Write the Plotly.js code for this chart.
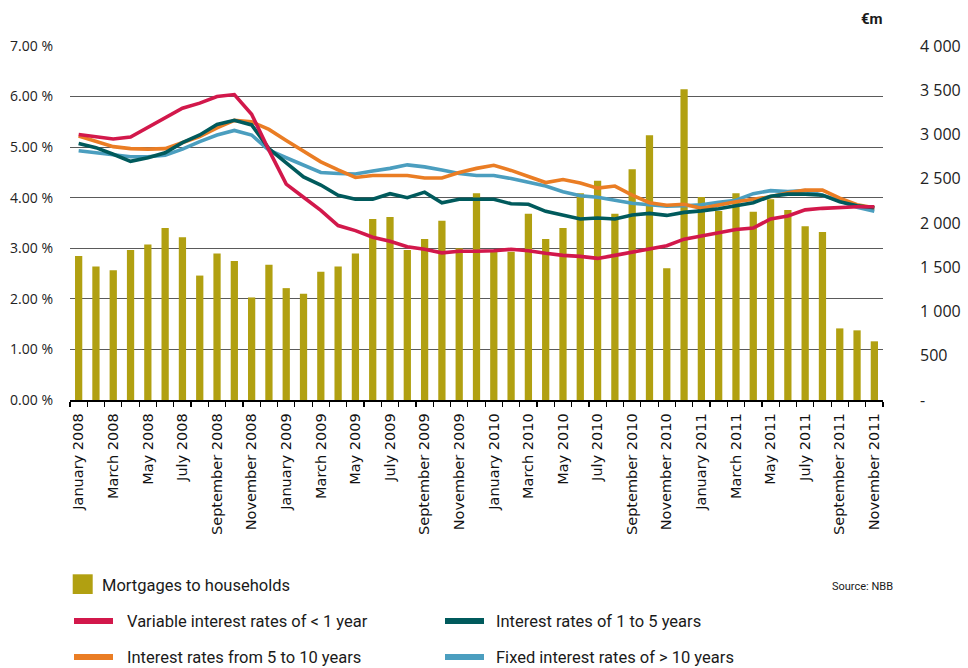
<!DOCTYPE html>
<html>
<head>
<meta charset="utf-8">
<script src="https://cdn.plot.ly/plotly-3.0.1.min.js"></script>
<style>
  html, body { margin: 0; padding: 0; background: #fff; }
  #chart { width: 968px; height: 668px; }
</style>
</head>
<body>
<div id="chart"></div>
<script>
// ---- Data ----
const months = [
  "January 2008","February 2008","March 2008","April 2008","May 2008","June 2008",
  "July 2008","August 2008","September 2008","October 2008","November 2008","December 2008",
  "January 2009","February 2009","March 2009","April 2009","May 2009","June 2009",
  "July 2009","August 2009","September 2009","October 2009","November 2009","December 2009",
  "January 2010","February 2010","March 2010","April 2010","May 2010","June 2010",
  "July 2010","August 2010","September 2010","October 2010","November 2010","December 2010",
  "January 2011","February 2011","March 2011","April 2011","May 2011","June 2011",
  "July 2011","August 2011","September 2011","October 2011","November 2011"
];

// Mortgages to households (€m, right axis)
const mortgages = [
  1628, 1508, 1467, 1696, 1756, 1944, 1839, 1406, 1654, 1572, 1159, 1527,
  1264, 1200, 1448, 1508, 1654, 2045, 2068, 1696, 1820, 2026, 1715, 2335,
  1696, 1674, 2105, 1820, 1944, 2335, 2477, 2105, 2606, 2992, 1490, 3511,
  2293, 2136, 2335, 2128, 2268, 2147, 1963, 1899, 809, 787, 663
];

// Interest rates (%, left axis)
const variableLt1 = [
  5.25, 5.20, 5.16, 5.20, 5.39, 5.59, 5.77, 5.87, 6.00, 6.04, 5.65, 4.94,
  4.27, 4.01, 3.75, 3.45, 3.35, 3.22, 3.14, 3.03, 2.98, 2.91, 2.94, 2.94,
  2.95, 2.98, 2.95, 2.90, 2.86, 2.84, 2.80, 2.86, 2.92, 2.99, 3.05, 3.18,
  3.24, 3.31, 3.37, 3.40, 3.58, 3.64, 3.76, 3.79, 3.81, 3.82, 3.82
];
const rate1to5 = [
  5.07, 4.99, 4.86, 4.72, 4.79, 4.89, 5.09, 5.24, 5.45, 5.53, 5.44, 4.97,
  4.69, 4.41, 4.25, 4.05, 3.97, 3.97, 4.08, 4.00, 4.11, 3.90, 3.97, 3.97,
  3.97, 3.88, 3.87, 3.73, 3.66, 3.58, 3.60, 3.58, 3.66, 3.69, 3.65, 3.71,
  3.74, 3.78, 3.84, 3.90, 4.03, 4.07, 4.07, 4.05, 3.92, 3.84, 3.80
];
const rate5to10 = [
  5.22, 5.11, 5.01, 4.97, 4.96, 4.97, 5.09, 5.21, 5.38, 5.53, 5.50, 5.35,
  5.13, 4.91, 4.71, 4.55, 4.40, 4.44, 4.44, 4.44, 4.39, 4.39, 4.50, 4.58,
  4.64, 4.54, 4.42, 4.30, 4.36, 4.29, 4.19, 4.23, 4.05, 3.90, 3.85, 3.87,
  3.79, 3.86, 3.92, 3.97, 4.02, 4.10, 4.15, 4.15, 3.99, 3.86, 3.80
];
const fixedGt10 = [
  4.93, 4.89, 4.85, 4.81, 4.81, 4.84, 4.96, 5.11, 5.24, 5.33, 5.24, 4.94,
  4.79, 4.65, 4.50, 4.48, 4.47, 4.53, 4.58, 4.65, 4.61, 4.55, 4.48, 4.44,
  4.44, 4.38, 4.30, 4.23, 4.12, 4.04, 4.01, 3.95, 3.89, 3.86, 3.83, 3.84,
  3.86, 3.91, 3.95, 4.08, 4.14, 4.12, 4.14, 4.05, 3.94, 3.81, 3.73
];

const leftTickVals = [0, 1, 2, 3, 4, 5, 6, 7];
const leftTickText = ["0.00 %", "1.00 %", "2.00 %", "3.00 %", "4.00 %", "5.00 %", "6.00 %", "7.00 %"];
const rightTickVals = [0, 500, 1000, 1500, 2000, 2500, 3000, 3500, 4000];
const rightTickText = ["-", "500", "1 000", "1 500", "2 000", "2 500", "3 000", "3 500", "4 000"];

const seriesNames = {
  bars: "Mortgages to households",
  red: "Variable interest rates of < 1 year",
  teal: "Interest rates of 1 to 5 years",
  orange: "Interest rates from 5 to 10 years",
  blue: "Fixed interest rates of > 10 years"
};

// ---- Styles ----
const C = {
  bar: "#b1a011",
  red: "#d2184b",
  teal: "#005a5c",
  orange: "#ea7d24",
  blue: "#4b9ebf"
};

// pixel -> paper helpers (plot area: x 70..883, y 46..400)
const L = 70, R = 85, T = 46, B = 268, W = 968, H = 668;
const pw = W - L - R, ph = H - T - B;
const px = x => (x - L) / pw;
const py = y => (H - B - y) / ph;

const lineTrace = (y, name, color) => ({
  type: "scatter", mode: "lines", x: months, y: y, name: name,
  yaxis: "y2", line: { color: color, width: 3.6 }, hoverinfo: "x+y+name"
});

const traces = [
  { type: "bar", x: months, y: mortgages, name: seriesNames.bars, yaxis: "y",
    marker: { color: C.bar, line: { width: 0 } } },
  lineTrace(fixedGt10, seriesNames.blue, C.blue),
  lineTrace(rate5to10, seriesNames.orange, C.orange),
  lineTrace(rate1to5, seriesNames.teal, C.teal),
  lineTrace(variableLt1, seriesNames.red, C.red)
];

const legendFont = { family: "Roboto, 'Open Sans', sans-serif", size: 16.5, color: "#1a1a1a" };

const shapes = [
  { type: "rect", xref: "paper", yref: "paper", x0: px(72.7), x1: px(92.7), y0: py(594), y1: py(574.3),
    fillcolor: C.bar, line: { width: 0 } },
  { type: "line", xref: "paper", yref: "paper", x0: px(74), x1: px(113), y0: py(621), y1: py(621),
    line: { color: C.red, width: 6 } },
  { type: "line", xref: "paper", yref: "paper", x0: px(74), x1: px(113), y0: py(657), y1: py(657),
    line: { color: C.orange, width: 6 } },
  { type: "line", xref: "paper", yref: "paper", x0: px(445), x1: px(484), y0: py(621), y1: py(621),
    line: { color: C.teal, width: 6 } },
  { type: "line", xref: "paper", yref: "paper", x0: px(445), x1: px(484), y0: py(657), y1: py(657),
    line: { color: C.blue, width: 6 } }
];

const ann = (text, x, y, anchor, font) => ({
  text: text, xref: "paper", yref: "paper", x: px(x), y: py(y),
  xanchor: anchor, yanchor: "middle", showarrow: false, font: font, borderpad: 0
});

const annotations = [
  ann(seriesNames.bars, 101, 585, "left", legendFont),
  ann(seriesNames.red, 126, 621, "left", legendFont),
  ann(seriesNames.orange, 126, 657, "left", legendFont),
  ann(seriesNames.teal, 495, 621, "left", legendFont),
  ann(seriesNames.blue, 495, 657, "left", legendFont),
  ann("Source: NBB", 894, 586, "right", { family: "Roboto, sans-serif", size: 11, color: "#1a1a1a" }),
  ann("<b>€m</b>", 884, 19, "right", { family: "Roboto, sans-serif", size: 15, color: "#1a1a1a" })
];

const layout = {
  width: W, height: H,
  margin: { l: L, r: R, t: T, b: B, pad: 0 },
  paper_bgcolor: "#ffffff", plot_bgcolor: "#ffffff",
  showlegend: false,
  bargap: 0.58,
  xaxis: {
    type: "category",
    range: [-0.5, months.length - 0.5],
    tickmode: "linear", tick0: 0, dtick: 1, ticklabelstep: 2,
    tickson: "boundaries",
    ticks: "outside", ticklen: 5, tickwidth: 1.2, tickcolor: "#000",
    tickangle: -90,
    tickfont: { family: "'DejaVu Sans', Verdana, sans-serif", size: 14.5, color: "#111" },
    showline: true, linecolor: "#000", linewidth: 1.5,
    showgrid: false, zeroline: false, automargin: false,
    ticklabelstandoff: 6
  },
  yaxis: {
    side: "right",
    range: [0, 4000],
    tickmode: "array", tickvals: rightTickVals, ticktext: rightTickText,
    showgrid: false, zeroline: false, showline: false, ticks: "",
    tickfont: { family: "'Open Sans', sans-serif", size: 16, color: "#222" },
    ticklabelstandoff: 36, automargin: false
  },
  yaxis2: {
    overlaying: "y", side: "left",
    range: [0, 7],
    tickmode: "array", tickvals: leftTickVals, ticktext: leftTickText,
    showgrid: true, gridcolor: "#5a5a5a", gridwidth: 1,
    zeroline: false, showline: false, ticks: "",
    tickfont: { family: "'Open Sans', sans-serif", size: 14, color: "#222" },
    ticklabelstandoff: 16, automargin: false
  },
  shapes: shapes,
  annotations: annotations
};

Plotly.newPlot("chart", traces, layout, { staticPlot: true, displayModeBar: false });
</script>
</body>
</html>
